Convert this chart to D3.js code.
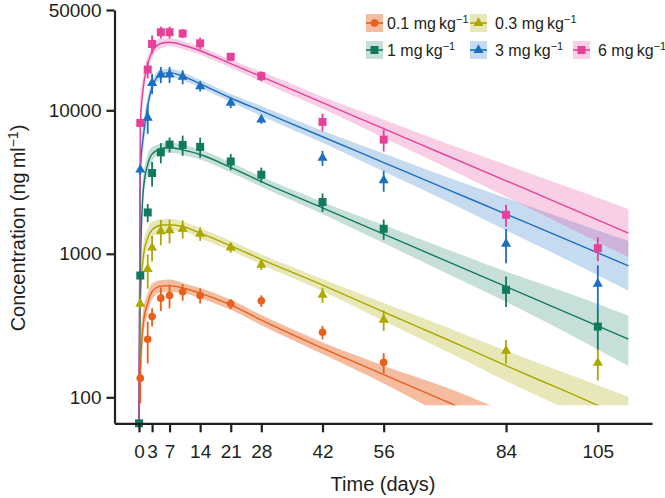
<!DOCTYPE html>
<html><head><meta charset="utf-8">
<script src="https://cdn.jsdelivr.net/npm/d3@7"></script>
<style>
body{margin:0;background:#fff}
svg{display:block;font-family:"Liberation Sans",Arial,Helvetica,sans-serif}
</style></head><body><svg id="c" width="665" height="498"></svg>
<script>
// ---------- DATA ----------
const doses = ["0.1", "0.3", "1", "3", "6"];
const sampleDays = [0.3, 2, 3, 5, 7, 10, 14, 21, 28, 42, 56, 84, 105];

const mean01 = [136, 254, 365, 491, 512, 543, 512, 448, 470, 284, 175, null, null];
const sd01   = [45, 82, 53, 92, 96, 72, 62, 36, 44, 31, 28, null, null];
const mean03 = [448, 782, 1107, 1432, 1455, 1494, 1380, 1107, 838, 517, 346, 211, 174];
const sd03   = [32, 210, 222, 288, 274, 216, 149, 89, 67, 62, 56, 40, 43];
const mean1  = [706, 1942, 3655, 5090, 5770, 5740, 5560, 4400, 3560, 2296, 1494, 561, 311];
const sd1    = [45, 281, 705, 818, 695, 922, 893, 566, 429, 340, 240, 135, 96];
const mean3  = [3855, 8850, 15500, 17750, 17750, 17100, 14700, 11270, 8610, 4655, 3247, 1174, 617];
const sd3    = [310, 1990, 2490, 2280, 2280, 1925, 1180, 905, 555, 560, 538, 315, 215];
const mean6  = [8170, 19230, 29000, 35000, 35000, 34300, 29300, 23600, 17300, 8300, 6245, 1870, 1096];
const sd6    = [525, 2560, 4200, 3370, 3370, 2480, 2820, 1520, 1390, 1170, 1085, 325, 206];

// pre-dose sample below quantification (shown on the axis floor)
const predoseDay = 0, predoseValue = 65.9;

// model fit (median and prediction band)
const fitDays = [0, 0.3, 1, 2, 3, 5, 7, 10, 14, 21, 28, 42, 56, 70, 84, 98, 112];
const fit01 = [66, 150, 328, 453, 546, 595, 600, 578, 532, 441, 345, 220, 144, 94.4, 62, 41, 27];
const lo01  = [66, 100, 262, 386, 480, 540, 545, 533, 491, 407, 318, 200, 125, 75, 48, 30, 19];
const hi01  = [66, 224, 411, 532, 621, 655, 661, 626, 577, 478, 374, 242, 166, 118, 80, 56, 40];
const fit03 = [66, 448, 957, 1287, 1469, 1580, 1594, 1550, 1393, 1137, 915, 606, 393, 257, 166, 109, 70.7];
const lo03  = [66, 300, 764, 1096, 1292, 1435, 1448, 1430, 1285, 1049, 844, 550, 340, 212, 130, 82, 50];
const hi03  = [66, 670, 1199, 1511, 1670, 1740, 1755, 1680, 1510, 1232, 992, 667, 454, 312, 211, 146, 101];
const fit1  = [66, 750, 2800, 4200, 4950, 5400, 5500, 5300, 4920, 4000, 3184, 2089, 1372, 900, 591, 388, 254];
const lo1   = [66, 502, 2236, 3577, 4424, 4983, 5075, 4891, 4540, 3691, 2938, 1897, 1187, 742, 464, 281, 165];
const hi1   = [66, 1120, 3507, 4930, 5540, 5852, 5960, 5744, 5332, 4335, 3451, 2300, 1585, 1091, 752, 535, 370];
const fit3  = [66, 3855, 6600, 10700, 14500, 17800, 18300, 17300, 15300, 12180, 9900, 6540, 4325, 2860, 1892, 1251, 825];
const lo3   = [66, 2580, 5270, 9110, 13170, 16430, 17160, 16220, 14350, 11420, 9140, 5940, 3740, 2360, 1460, 907, 552];
const hi3   = [66, 5760, 8270, 12560, 15960, 19290, 19510, 18450, 16320, 12990, 10730, 7200, 5000, 3470, 2450, 1730, 1230];
const fit6  = [66, 8000, 14500, 21000, 25500, 29200, 29800, 28500, 26000, 21150, 17170, 11300, 7450, 4900, 3228, 2126, 1395];
const lo6   = [66, 5350, 11960, 18470, 23160, 26940, 27940, 26730, 24380, 19830, 15840, 10260, 6450, 4040, 2500, 1540, 950];
const hi6   = [66, 11960, 17580, 23880, 28080, 31640, 31780, 30390, 27730, 22550, 18610, 12440, 8610, 5940, 4170, 2930, 2050];

const bandFloor = 88;   // fitted bands/lines are not drawn below this concentration

const xTicks = [0, 3, 7, 14, 21, 28, 42, 56, 84, 105];
const yTicks = [100, 1000, 10000, 50000];

// ---------- STYLE ----------
const colors = ["#e8601c", "#aca800", "#127a5c", "#1b6ec2", "#e6409a"];
const bandOpacity = [0.42, 0.28, 0.24, 0.25, 0.25];
const shapes = [d3.symbolCircle, d3.symbolTriangle, d3.symbolSquare, d3.symbolTriangle, d3.symbolSquare];
const shapeSize = [46, 44, 64, 44, 64];
const ink = "#231f20";

const series = [
  {mean: mean01, sd: sd01, fit: fit01, lo: lo01, hi: hi01},
  {mean: mean03, sd: sd03, fit: fit03, lo: lo03, hi: hi03},
  {mean: mean1,  sd: sd1,  fit: fit1,  lo: lo1,  hi: hi1, predose: true},
  {mean: mean3,  sd: sd3,  fit: fit3,  lo: lo3,  hi: hi3},
  {mean: mean6,  sd: sd6,  fit: fit6,  lo: lo6,  hi: hi6}
].map((s, i) => ({...s, dose: doses[i], color: colors[i], op: bandOpacity[i], shape: shapes[i], size: shapeSize[i]}));

// ---------- SCALES ----------
const svg = d3.select("#c");
const x = d3.scaleLinear().domain([-5.6, 117.4]).range([114.5, 652]);
const y = d3.scaleLog().domain([65.9, 50000]).range([423.3, 10]);

// clip: full height right at dosing, otherwise down to the band floor
const defs = svg.append("defs");
const cp = defs.append("clipPath").attr("id", "fitclip");
cp.append("rect").attr("x", x.range()[0]).attr("y", 0)
  .attr("width", x(0.2) - x.range()[0]).attr("height", y.range()[0]);
cp.append("rect").attr("x", x(0.2)).attr("y", 0)
  .attr("width", x.range()[1] - x(0.2)).attr("height", y(bandFloor));

const fitG = svg.append("g").attr("clip-path", "url(#fitclip)");
const area = d3.area().x(d => x(d.t)).y0(d => y(d.lo)).y1(d => y(d.hi)).curve(d3.curveMonotoneX);
const line = d3.line().x(d => x(d.t)).y(d => y(d.v)).curve(d3.curveMonotoneX);

series.forEach(s => {
  const pts = fitDays.map((t, i) => ({t, v: s.fit[i], lo: s.lo[i], hi: s.hi[i]}));
  s.pts = pts;
  fitG.append("path").datum(pts).attr("d", area)
    .attr("fill", s.color).attr("fill-opacity", s.op).attr("stroke", "none");
});
series.forEach(s => {
  fitG.append("path").datum(s.pts).attr("d", line)
    .attr("fill", "none").attr("stroke", s.color).attr("stroke-width", 1.4);
});

// ---------- OBSERVATIONS ----------
series.forEach(s => {
  const g = svg.append("g");
  const obs = sampleDays.map((t, i) => ({t, m: s.mean[i], sd: s.sd[i]})).filter(d => d.m != null);
  g.selectAll("line.err").data(obs).join("line")
    .attr("x1", d => x(d.t)).attr("x2", d => x(d.t))
    .attr("y1", d => y(Math.max(d.m - d.sd, y.domain()[0])))
    .attr("y2", d => y(d.m + d.sd))
    .attr("stroke", s.color).attr("stroke-width", 1.8);
  const sym = d3.symbol().type(s.shape).size(s.size);
  g.selectAll("path.pt").data(obs).join("path")
    .attr("transform", d => `translate(${x(d.t)},${y(d.m)})`)
    .attr("d", sym).attr("fill", s.color);
  if (s.predose) {
    g.append("path").attr("transform", `translate(${x(predoseDay)},${y(predoseValue)})`)
      .attr("d", sym).attr("fill", s.color);
  }
});

// ---------- AXES ----------
const xAxis = svg.append("g").attr("transform", `translate(0,${y.range()[0]})`)
  .call(d3.axisBottom(x).tickValues(xTicks).tickSize(9).tickPadding(12).tickSizeOuter(0));
const yAxis = svg.append("g").attr("transform", `translate(${x.range()[0]},0)`)
  .call(d3.axisLeft(y).tickValues(yTicks).tickFormat(d => String(d)).tickSize(8).tickPadding(5).tickSizeOuter(0));
[xAxis, yAxis].forEach(a => {
  a.select(".domain").attr("stroke", ink).attr("stroke-width", 2.2);
  a.selectAll(".tick line").attr("stroke", ink).attr("stroke-width", 2.2);
  a.selectAll(".tick text").attr("fill", ink).style("font-size", "19px")
    .style("font-family", '"Liberation Sans",Arial,Helvetica,sans-serif');
});

svg.append("text").attr("x", 383).attr("y", 491).attr("text-anchor", "middle")
  .attr("fill", ink).style("font-size", "20px").text("Time (days)");

const yt = svg.append("text").attr("transform", "translate(25,228) rotate(-90)")
  .attr("text-anchor", "middle").attr("fill", ink).style("font-size", "20px");
yt.append("tspan").text("Concentration (ng\u2009ml");
yt.append("tspan").attr("dy", -7).style("font-size", "14px").text("\u22121");
yt.append("tspan").attr("dy", 7).text(")");

// ---------- LEGEND ----------
const legendPos = [
  {rx: 366, tx: 387, cy: 23}, {rx: 470, tx: 495, cy: 23},
  {rx: 366, tx: 387, cy: 50}, {rx: 470, tx: 495, cy: 50}, {rx: 573, tx: 598, cy: 50}
];
series.forEach((s, i) => {
  const p = legendPos[i];
  const g = svg.append("g");
  g.append("rect").attr("x", p.rx).attr("y", p.cy - 9).attr("width", 17).attr("height", 18)
    .attr("fill", s.color).attr("fill-opacity", s.op);
  g.append("line").attr("x1", p.rx).attr("x2", p.rx + 17).attr("y1", p.cy).attr("y2", p.cy)
    .attr("stroke", s.color).attr("stroke-width", 1.6);
  g.append("path").attr("transform", `translate(${p.rx + 8.5},${p.cy})`)
    .attr("d", d3.symbol().type(s.shape).size(s.size)).attr("fill", s.color);
  const t = g.append("text").attr("x", p.tx).attr("y", p.cy + 6).attr("fill", ink).style("font-size", "16px");
  t.append("tspan").text(s.dose + " mg\u2009kg");
  t.append("tspan").attr("dy", -6).style("font-size", "11px").text("\u22121");
});
</script></body></html>
